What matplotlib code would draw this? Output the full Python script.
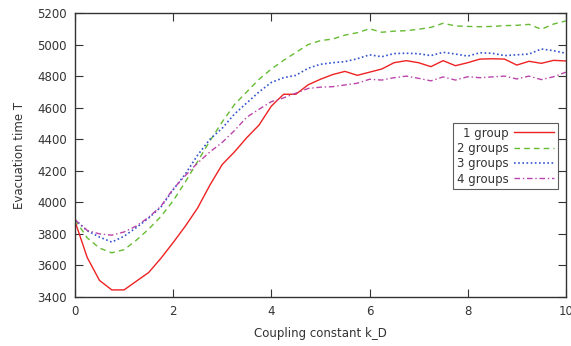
import matplotlib
matplotlib.use("Agg")
import matplotlib.pyplot as plt
import numpy as np

k_d = np.arange(0, 10.01, 0.25)

t_1group = [3880, 3650, 3505, 3445, 3445, 3500, 3555, 3645, 3745, 3850,
            3965, 4110, 4240, 4320, 4410, 4490, 4610, 4685, 4685, 4745,
            4780, 4810, 4830, 4805, 4825, 4845, 4885, 4898, 4885, 4860,
            4898, 4866, 4885, 4908, 4910, 4908, 4870, 4894, 4881, 4900, 4896]
t_2groups = [3890, 3775, 3710, 3680, 3700, 3760, 3830, 3910, 4010, 4130,
             4260, 4390, 4510, 4620, 4700, 4780, 4845, 4900, 4950, 5000,
             5025, 5035, 5060, 5075, 5100, 5078, 5085, 5088, 5097, 5109,
             5135, 5118, 5115, 5113, 5115, 5120, 5122, 5128, 5097, 5130, 5150]
t_3groups = [3890, 3820, 3780, 3748, 3785, 3840, 3900, 3970, 4080, 4180,
             4300, 4400, 4470, 4560, 4630, 4700, 4760, 4790, 4805, 4850,
             4875, 4885, 4892, 4910, 4935, 4923, 4943, 4945, 4942, 4930,
             4951, 4940, 4927, 4948, 4945, 4930, 4935, 4940, 4972, 4961, 4945]
t_4groups = [3890, 3822, 3800, 3792, 3812, 3850, 3905, 3975, 4085, 4170,
             4250, 4320, 4380, 4455, 4540, 4590, 4638, 4662, 4692, 4722,
             4730, 4733, 4744, 4755, 4780, 4775, 4790, 4800, 4786, 4770,
             4795, 4775, 4796, 4790, 4795, 4800, 4782, 4800, 4778, 4796, 4825]

labels = ["1 group", "2 groups", "3 groups", "4 groups"]

fig = plt.figure(figsize=(5.71, 3.46), dpi=100)
ax = fig.add_axes([0.1313, 0.1416, 0.8597, 0.8208])

ax.plot(k_d, t_1group, color="#ee2222", lw=1.0, label=labels[0])
ax.plot(k_d, t_2groups, color="#66bb33", lw=1.0, dashes=(4, 3), label=labels[1])
ax.plot(k_d, t_3groups, color="#3355cc", lw=1.2, dashes=(1, 1.5), label=labels[2])
ax.plot(k_d, t_4groups, color="#bb44aa", lw=1.0, dashes=(4, 2, 1, 2), label=labels[3])

ax.set_xlim(0, 10)
ax.set_ylim(3400, 5200)
ax.set_xticks([0, 2, 4, 6, 8, 10])
ax.set_yticks(np.arange(3400, 5201, 200))
ax.tick_params(direction="in", length=6, width=0.8, top=True, right=True,
               labelsize=8.5, colors="#333333", pad=6)
for s in ax.spines.values():
    s.set_color("#333333")
    s.set_linewidth(1.0)

ax.set_xlabel("Coupling constant k_D", fontsize=8.5, color="#333333", labelpad=6)
ax.set_ylabel("Evacuation time T", fontsize=8.5, color="#333333", labelpad=8)

leg = ax.legend(loc="upper right", bbox_to_anchor=(0.977, 0.6445),
                bbox_transform=fig.transFigure, markerfirst=False,
                fontsize=8.5, frameon=True, fancybox=False,
                handlelength=3.4, borderpad=0.3, labelspacing=0.2,
                handletextpad=0.5, borderaxespad=0)
leg.get_frame().set_edgecolor("#333333")
leg.get_frame().set_linewidth(0.8)
for t in leg.get_texts():
    t.set_ha("right")
    t.set_color("#333333")

fig.savefig("out.png", dpi=100, facecolor="white")
